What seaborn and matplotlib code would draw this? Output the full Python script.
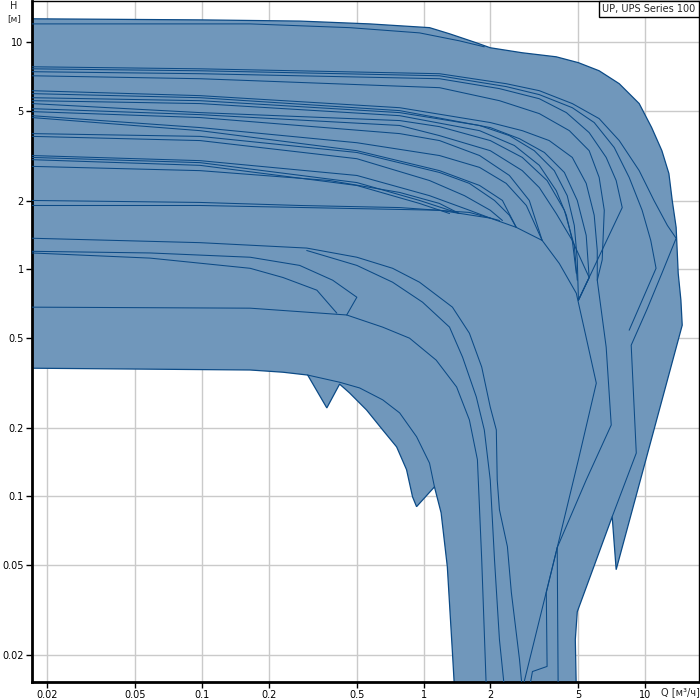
import matplotlib
matplotlib.use("Agg")
import matplotlib.pyplot as plt
import seaborn as sns

# envelope of all pump curves (Q in m3/h, H in m)
outline_q = [0.015, 0.1, 0.276, 0.571, 1.064, 1.31, 1.73, 2.0, 2.79, 3.97, 5.0, 6.2, 7.64, 9.4,
             10.7, 11.9, 12.8, 13.25, 13.8, 14.1, 14.5, 14.7, 7.4, 7.1, 4.94, 4.84, 4.89,
             1.38, 1.35, 1.28, 1.2, 1.12, 0.93, 0.892, 0.838, 0.756, 0.654, 0.553, 0.464,
             0.418, 0.366, 0.30, 0.232, 0.165, 0.015]
outline_h = [12.7, 12.55, 12.4, 12.05, 11.6, 10.9, 9.95, 9.46, 8.99, 8.63, 8.13, 7.49, 6.57, 5.37,
             4.21, 3.33, 2.64, 2.01, 1.53, 0.96, 0.731, 0.567, 0.0475, 0.0813, 0.031, 0.0234, 0.0141,
             0.0141, 0.0205, 0.049, 0.0846, 0.110, 0.090, 0.0994, 0.131, 0.165, 0.196, 0.240, 0.285,
             0.312, 0.245, 0.342, 0.352, 0.36, 0.367]

curves = {
    "T2": ([0.0171, 0.165, 0.464, 0.959, 1.45, 1.88],
           [12.05, 12.05, 11.6, 11.0, 10.15, 9.55]),
    "A2": ([0.0171, 0.098, 1.18, 2.36, 3.33, 4.69, 6.20, 7.64, 9.40, 10.96, 12.6, 13.8, 11.9, 10.2, 8.65, 9.12, 7.10],
           [7.80, 7.64, 7.27, 6.57, 6.12, 5.37, 4.61, 3.69, 2.72, 2.01, 1.56, 1.37, 0.96, 0.667, 0.463, 0.155, 0.0813]),
    "A3": ([0.0171, 0.098, 1.18, 2.36, 3.33, 4.69, 5.89, 7.25, 8.47, 9.69, 10.6, 11.2, 8.47],
           [7.64, 7.49, 7.12, 6.38, 5.88, 5.15, 4.43, 3.44, 2.54, 1.82, 1.34, 1.01, 0.539]),
    "A4": ([0.0171, 0.098, 1.18, 2.20, 3.33, 4.41, 5.59, 6.67, 7.40, 7.88, 5.0],
           [7.42, 7.27, 6.91, 6.25, 5.64, 4.90, 4.0, 3.11, 2.46, 1.87, 0.731]),
    "A5": ([0.0171, 0.098, 1.18, 2.20, 3.33, 4.55, 5.59, 6.20, 6.54, 6.40, 6.08, 6.67, 7.03, 5.42, 4.01, 4.05],
           [7.12, 6.91, 6.31, 5.53, 4.85, 4.08, 3.33, 2.54, 1.82, 1.10, 0.895, 0.454, 0.206, 0.118, 0.0594, 0.0141]),
    "B1": ([0.0171, 0.098, 0.78, 2.0, 2.79, 3.69, 4.69, 5.42, 5.89, 6.08, 6.08],
           [6.12, 5.82, 5.15, 4.43, 4.08, 3.69, 3.11, 2.39, 1.73, 1.21, 0.895]),
    "B2": ([0.0171, 0.098, 0.78, 2.0, 2.71, 3.51, 4.32, 4.94, 5.42, 5.59, 5.0],
           [5.94, 5.70, 5.0, 4.21, 3.76, 3.27, 2.67, 2.01, 1.41, 0.92, 0.731]),
    "B3": ([0.0171, 0.098, 0.78, 1.79, 2.44, 3.16, 3.89, 4.45, 4.79, 4.94, 5.0],
           [5.70, 5.53, 4.90, 4.30, 3.88, 3.33, 2.72, 2.11, 1.56, 1.10, 0.731]),
    "B4": ([0.0171, 0.098, 0.78, 1.79, 2.57, 3.33, 3.97, 4.41, 4.69, 4.89],
           [5.53, 5.37, 4.75, 4.08, 3.51, 2.87, 2.22, 1.73, 1.34, 0.96]),
    "C1": ([0.0171, 0.098, 0.78, 1.18, 2.0, 2.79, 3.61, 4.32, 4.79, 4.94],
           [5.37, 4.90, 4.52, 4.25, 3.69, 3.11, 2.46, 1.82, 1.27, 0.895]),
    "C2": ([0.0171, 0.098, 0.78, 1.18, 2.0, 2.79, 3.33, 3.97, 4.69, 5.59, 5.0],
           [5.10, 4.80, 4.30, 3.88, 3.33, 2.72, 2.29, 1.76, 1.34, 0.92, 0.731]),
    "C3": ([0.0171, 0.098, 0.78, 1.18, 1.79, 2.44, 3.0, 3.43],
           [4.95, 4.66, 3.96, 3.69, 3.17, 2.59, 2.01, 1.34]),
    "D1": ([0.0171, 0.098, 0.5, 1.18, 1.79, 2.36, 2.91, 3.43],
           [4.75, 4.21, 3.61, 3.17, 2.81, 2.39, 1.91, 1.34]),
    "D2": ([0.0171, 0.098, 0.5, 1.18, 1.79, 2.27, 2.62],
           [4.66, 4.08, 3.33, 2.72, 2.34, 2.01, 1.53]),
    "E1": ([0.0171, 0.098, 0.5, 1.18, 1.61, 2.09, 2.44, 2.62],
           [3.96, 3.85, 3.27, 2.67, 2.39, 2.01, 1.73, 1.53]),
    "E2": ([0.0171, 0.098, 0.5, 1.064, 1.53, 2.0, 2.27],
           [3.85, 3.69, 3.07, 2.46, 2.11, 1.82, 1.64]),
    "F1": ([0.0171, 0.098, 0.5, 1.064, 1.61, 2.0],
           [3.17, 3.01, 2.59, 2.11, 1.82, 1.68]),
    "F2": ([0.0171, 0.098, 0.5, 0.959, 1.31, 1.45],
           [3.11, 2.95, 2.41, 2.01, 1.82, 1.76]),
    "F3": ([0.0171, 0.098, 0.5, 0.959, 1.31],
           [3.04, 2.87, 2.34, 1.95, 1.76]),
    "G1": ([0.0171, 0.098, 0.377, 0.78, 1.18, 1.45],
           [2.84, 2.72, 2.46, 2.18, 1.95, 1.76]),
    "H2a": ([0.0171, 0.098, 1.18, 2.0, 2.62, 3.43, 4.10, 4.89, 5.42, 6.02, 5.0, 4.01, 2.79],
            [1.91, 1.91, 1.82, 1.68, 1.53, 1.34, 1.06, 0.784, 0.50, 0.315, 0.145, 0.0594, 0.0141]),
    "H2b": ([0.0171, 0.098, 0.276, 0.78, 1.61, 2.20],
            [2.01, 1.97, 1.91, 1.87, 1.78, 1.64]),
    "M1": ([0.0171, 0.098, 0.297, 0.5, 0.725, 0.959, 1.35, 1.61, 1.83, 2.0, 2.13, 2.15, 2.20, 2.39, 2.49, 2.71, 2.79],
           [1.37, 1.31, 1.24, 1.13, 1.01, 0.877, 0.681, 0.523, 0.371, 0.247, 0.196, 0.118, 0.0873, 0.060, 0.0377, 0.0191, 0.0141]),
    "M2": ([0.297, 0.5, 0.725, 0.99, 1.31, 1.50, 1.73, 1.88, 2.0, 2.09, 2.20, 2.32],
           [1.21, 1.04, 0.877, 0.716, 0.556, 0.410, 0.274, 0.196, 0.118, 0.0526, 0.0234, 0.0141]),
    "M3": ([0.0171, 0.165, 0.45, 0.654, 0.865, 1.14, 1.41, 1.61, 1.75, 1.83, 1.92],
           [0.681, 0.674, 0.629, 0.556, 0.497, 0.398, 0.303, 0.217, 0.145, 0.0526, 0.0141]),
    "V1": ([0.0171, 0.0583, 0.165, 0.276, 0.389, 0.5, 0.45],
           [1.20, 1.18, 1.13, 1.04, 0.895, 0.753, 0.629]),
    "V2": ([0.0171, 0.0583, 0.165, 0.232, 0.33, 0.406],
           [1.18, 1.12, 1.01, 0.92, 0.809, 0.641]),
    "low": ([0.30, 0.418, 0.515, 0.654, 0.78, 0.93, 1.064, 1.12],
            [0.342, 0.318, 0.30, 0.266, 0.233, 0.183, 0.140, 0.110]),
    "tail": ([4.01, 3.58, 3.61, 3.10, 3.0],
             [0.0594, 0.0377, 0.0178, 0.0169, 0.0141]),
}

x_ticks = [0.02, 0.05, 0.1, 0.2, 0.5, 1, 2, 5, 10]
x_labels = ["0.02", "0.05", "0.1", "0.2", "0.5", "1", "2", "5", "10"]
y_ticks = [0.02, 0.05, 0.1, 0.2, 0.5, 1, 2, 5, 10]
y_labels = ["0.02", "0.05", "0.1", "0.2", "0.5", "1", "2", "5", "10"]

fill_color = "#7097bb"
line_color = "#0b4a86"

sns.set_style("white")
plt.rcParams["font.family"] = ["DejaVu Sans"]

fig = plt.figure(figsize=(7, 7), dpi=100)
ax = fig.add_axes([32 / 700, 18 / 700, 667 / 700, 681 / 700])
ax.set_xscale("log")
ax.set_yscale("log")
ax.set_xlim(0.0171, 17.5)
ax.set_ylim(0.0152, 15.2)

ax.fill(outline_q, outline_h, facecolor=fill_color, edgecolor=line_color, lw=0.9, zorder=1)

for name, (q, h) in curves.items():
    sns.lineplot(x=q, y=h, sort=False, estimator=None, color=line_color, lw=0.75, ax=ax, zorder=3)

ax.set_xticks(x_ticks)
ax.set_xticklabels(x_labels)
ax.set_yticks(y_ticks)
ax.set_yticklabels(y_labels)
ax.minorticks_off()
ax.grid(True, color="#cacaca", lw=1)
for ln in ax.get_xgridlines() + ax.get_ygridlines():
    ln.set_zorder(2)
ax.tick_params(axis="both", labelsize=7, length=4, width=1, direction="out", pad=2,
               bottom=True, left=True, colors="black")
for side in ["left", "bottom"]:
    ax.spines[side].set_linewidth(2)
    ax.spines[side].set_color("black")
for side in ["top", "right"]:
    ax.spines[side].set_linewidth(1)
    ax.spines[side].set_color("black")

fig.text(14 / 700, 1 - 6 / 700, "H", fontsize=7, ha="center", va="center")
fig.text(14 / 700, 1 - 19 / 700, "[м]", fontsize=6.5, ha="center", va="center")
fig.text(661 / 700, 1 - 692 / 700, "Q [м³/ч]", fontsize=7, ha="left", va="center")
ax.text(0.995, 0.996, "UP, UPS Series 100", transform=ax.transAxes, fontsize=7,
        ha="right", va="top", zorder=5,
        bbox=dict(facecolor="white", edgecolor="black", lw=1, boxstyle="square,pad=0.3"))

fig.savefig("out.png", dpi=100)
